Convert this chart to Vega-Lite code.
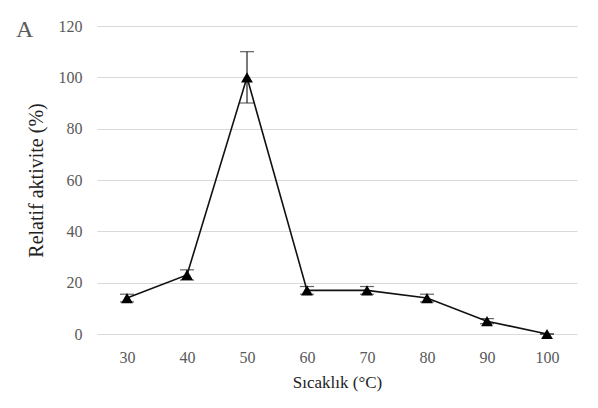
{
  "$schema": "https://vega.github.io/schema/vega-lite/v6.json",
  "autosize": "none",
  "width": 480,
  "height": 308,
  "padding": {"left": 97, "top": 26, "right": 21, "bottom": 74},
  "background": "white",
  "title": {"text": "A", "anchor": "start", "frame": "bounds", "orient": "top", "baseline": "alphabetic", "offset": 0, "dy": 43, "dx": -10, "fontSize": 24, "font": "Liberation Serif", "fontWeight": "normal", "color": "#595959"},
  "config": {"view": {"stroke": null}, "font": "Liberation Serif"},
  "data": {"values": [
    {"T": 30, "A": 14, "lo": 12.5, "hi": 15.5},
    {"T": 40, "A": 23, "lo": 21, "hi": 25},
    {"T": 50, "A": 100, "lo": 90, "hi": 110},
    {"T": 60, "A": 17, "lo": 15.5, "hi": 18.5},
    {"T": 70, "A": 17, "lo": 15.5, "hi": 18.5},
    {"T": 80, "A": 14, "lo": 12.5, "hi": 15.5},
    {"T": 90, "A": 5, "lo": 4, "hi": 6},
    {"T": 100, "A": 0, "lo": 0, "hi": 0}
  ]},
  "encoding": {
    "x": {"field": "T", "type": "ordinal", "sort": null, "scale": {"type": "point", "padding": 0.5},
      "axis": {"title": "Sıcaklık (°C)", "labelAngle": 0, "domain": false, "ticks": false, "grid": false, "labelFontSize": 16, "labelColor": "#595959", "labelPadding": 15, "titleFontSize": 17, "titleFontWeight": "normal", "titleColor": "#222", "titlePadding": 9}}
  },
  "layer": [
    {"mark": {"type": "rule", "color": "#222", "strokeWidth": 1.2},
     "encoding": {"y": {"field": "lo", "type": "quantitative", "scale": {"domain": [0, 120]},
        "axis": {"title": "Relatif aktivite (%)", "values": [0, 20, 40, 60, 80, 100, 120], "domain": false, "ticks": false, "grid": true, "gridColor": "#d9d9d9", "gridWidth": 1, "labelFontSize": 16, "labelColor": "#595959", "labelPadding": 15, "titleFontSize": 20, "titleFontWeight": "normal", "titleColor": "#222", "titlePadding": 12}},
       "y2": {"field": "hi"}}},
    {"mark": {"type": "tick", "color": "#222", "size": 14, "thickness": 1.2, "orient": "horizontal"},
     "encoding": {"y": {"field": "hi", "type": "quantitative"}}},
    {"mark": {"type": "tick", "color": "#222", "size": 14, "thickness": 1.2, "orient": "horizontal"},
     "encoding": {"y": {"field": "lo", "type": "quantitative"}}},
    {"mark": {"type": "line", "color": "#111", "strokeWidth": 1.6},
     "encoding": {"y": {"field": "A", "type": "quantitative"}}},
    {"mark": {"type": "point", "shape": "triangle-up", "filled": true, "color": "#000", "opacity": 1, "size": 140},
     "encoding": {"y": {"field": "A", "type": "quantitative"}}}
  ]
}
